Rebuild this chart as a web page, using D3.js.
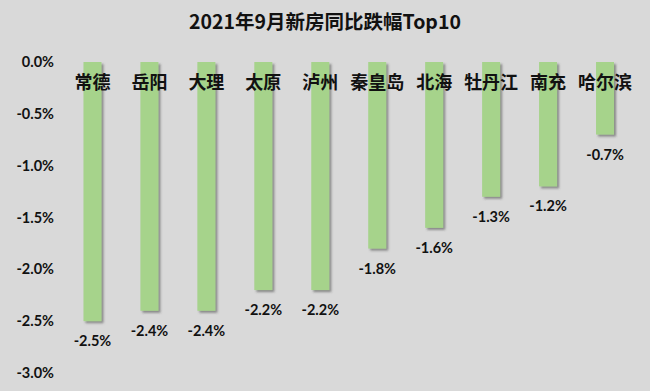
<!DOCTYPE html>
<html><head><meta charset="utf-8">
<script src="https://cdn.jsdelivr.net/npm/d3@7"></script>
<style>
html,body{margin:0;padding:0;background:#d9d9d9;}
svg{display:block;}
</style></head>
<body>
<script>
const title = "2021年9月新房同比跌幅Top10";
const cities = ["常德","岳阳","大理","太原","泸州","秦皇岛","北海","牡丹江","南充","哈尔滨"];
const values = [-2.5,-2.4,-2.4,-2.2,-2.2,-1.8,-1.6,-1.3,-1.2,-0.7];
const yTicks = [0,-0.5,-1.0,-1.5,-2.0,-2.5,-3.0];

const W = 650, H = 391;
const fmt = d => d3.format(".1f")(d).replace("\u2212","-") + "%";
const svg = d3.select("body").append("svg").attr("width", W).attr("height", H);
svg.append("rect").attr("width", W).attr("height", H).attr("fill", "#d9d9d9");

const defs = svg.append("defs");
const f = defs.append("filter").attr("id","sh").attr("x","-50%").attr("y","-10%").attr("width","200%").attr("height","120%");
f.append("feDropShadow").attr("dx",2).attr("dy",2).attr("stdDeviation",1.2)
 .attr("flood-color","#444").attr("flood-opacity",0.55);

const x = d3.scaleBand().domain(cities).range([64, 633.5]).paddingInner(0.684).paddingOuter(0.342);
const y = d3.scaleLinear().domain([0, -3]).range([62, 373]);

svg.append("text").attr("x", 325).attr("y", 29).attr("text-anchor","middle")
  .attr("font-family","'Noto Sans CJK SC', Lato, sans-serif").attr("font-weight","bold")
  .attr("font-size",19.5).attr("fill","#111").text(title);

const yAxis = d3.axisLeft(y).tickValues(yTicks).tickFormat(fmt).tickSize(0).tickPadding(0);
const ya = svg.append("g").attr("transform","translate(54,0)").call(yAxis);
ya.select(".domain").remove();
ya.selectAll("text").attr("font-family","Lato, 'Open Sans', sans-serif").attr("font-weight","bold")
  .attr("font-size",14.5).attr("fill","#111");

const data = cities.map((c,i)=>({c, v: values[i]}));

svg.append("g").selectAll("rect").data(data).join("rect")
  .attr("x", d => x(d.c)).attr("width", x.bandwidth())
  .attr("y", y(0)).attr("height", d => y(d.v) - y(0))
  .attr("fill","#a6d38b").attr("filter","url(#sh)");

svg.append("g").selectAll("text").data(data).join("text")
  .attr("x", d => x(d.c) + x.bandwidth()/2).attr("y", d => y(d.v) + 25)
  .attr("text-anchor","middle")
  .attr("font-family","Lato, 'Open Sans', sans-serif").attr("font-weight","bold")
  .attr("font-size",14.5).attr("fill","#111")
  .text(d => fmt(d.v));

svg.append("g").selectAll("text").data(data).join("text")
  .attr("x", d => x(d.c) + x.bandwidth()/2).attr("y", 89)
  .attr("text-anchor","middle")
  .attr("font-family","'Noto Sans CJK SC', sans-serif").attr("font-weight","bold")
  .attr("font-size",18).attr("fill","#111")
  .text(d => d.c);
</script>
</body></html>
